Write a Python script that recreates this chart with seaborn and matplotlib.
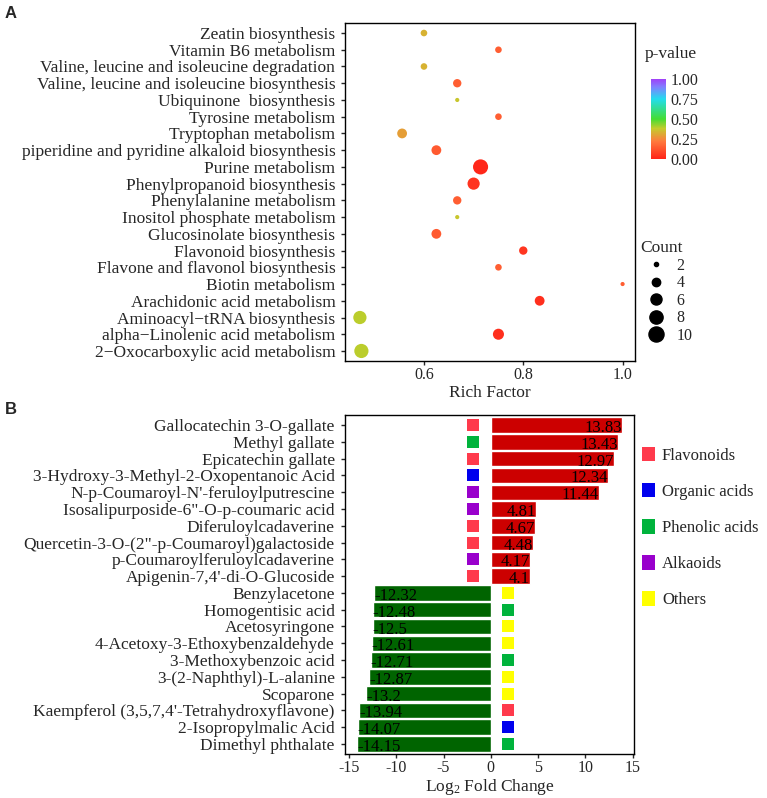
import numpy as np
import pandas as pd
import seaborn as sns
import matplotlib.pyplot as plt
from matplotlib.colors import LinearSegmentedColormap, Normalize
from matplotlib.cm import ScalarMappable
from matplotlib.lines import Line2D
from matplotlib.patches import Patch

# ---- panel A data (KEGG enrichment) ----
pathways = [
    "Zeatin biosynthesis", "Vitamin B6 metabolism",
    "Valine, leucine and isoleucine degradation",
    "Valine, leucine and isoleucine biosynthesis",
    "Ubiquinone  biosynthesis", "Tyrosine metabolism",
    "Tryptophan metabolism",
    "piperidine and pyridine alkaloid biosynthesis",
    "Purine metabolism", "Phenylpropanoid biosynthesis",
    "Phenylalanine metabolism", "Inositol phosphate metabolism",
    "Glucosinolate biosynthesis", "Flavonoid biosynthesis",
    "Flavone and flavonol biosynthesis", "Biotin metabolism",
    "Arachidonic acid metabolism", "Aminoacyl\u2212tRNA biosynthesis",
    "alpha\u2212Linolenic acid metabolism",
    "2\u2212Oxocarboxylic acid metabolism",
]
rich_factor = [0.60, 0.75, 0.60, 0.667, 0.667, 0.75, 0.556, 0.625, 0.714, 0.70,
               0.667, 0.667, 0.625, 0.80, 0.75, 1.00, 0.833, 0.471, 0.75, 0.474]
count = [3, 3, 3, 4, 2, 3, 5, 5, 10, 7, 4, 2, 5, 4, 3, 2, 5, 8, 6, 9]
pvalue = [0.33, 0.15, 0.33, 0.15, 0.37, 0.15, 0.29, 0.14, 0.01, 0.04,
          0.15, 0.37, 0.14, 0.05, 0.15, 0.15, 0.03, 0.39, 0.03, 0.39]

# ---- panel B data (fold change) ----
metabolites = [
    "Gallocatechin 3-O-gallate", "Methyl gallate", "Epicatechin gallate",
    "3-Hydroxy-3-Methyl-2-Oxopentanoic Acid",
    "N-p-Coumaroyl-N'-feruloylputrescine",
    "Isosalipurposide-6\"-O-p-coumaric acid", "Diferuloylcadaverine",
    "Quercetin-3-O-(2\"-p-Coumaroyl)galactoside",
    "p-Coumaroylferuloylcadaverine", "Apigenin-7,4'-di-O-Glucoside",
    "Benzylacetone", "Homogentisic acid", "Acetosyringone",
    "4-Acetoxy-3-Ethoxybenzaldehyde", "3-Methoxybenzoic acid",
    "3-(2-Naphthyl)-L-alanine", "Scoparone",
    "Kaempferol (3,5,7,4'-Tetrahydroxyflavone)", "2-Isopropylmalic Acid",
    "Dimethyl phthalate",
]
log2fc = [13.83, 13.43, 12.97, 12.34, 11.44, 4.81, 4.67, 4.48, 4.17, 4.1,
          -12.32, -12.48, -12.5, -12.61, -12.71, -12.87, -13.2, -13.94, -14.07, -14.15]
classes = ["Flavonoids", "Phenolic acids", "Flavonoids", "Organic acids", "Alkaoids",
           "Alkaoids", "Flavonoids", "Flavonoids", "Alkaoids", "Flavonoids",
           "Others", "Phenolic acids", "Others", "Others", "Phenolic acids",
           "Others", "Others", "Flavonoids", "Organic acids", "Phenolic acids"]
class_order = ["Flavonoids", "Organic acids", "Phenolic acids", "Alkaoids", "Others"]
class_colors = {"Flavonoids": "#FF3A4C", "Organic acids": "#0000EE",
                "Phenolic acids": "#00B33C", "Alkaoids": "#9900CC", "Others": "#FFFF00"}

sns.set_style("white")
plt.rcParams['font.family'] = ['Liberation Serif', 'DejaVu Serif']
plt.rcParams['mathtext.default'] = 'regular'

fig = plt.figure(figsize=(7.67, 7.98), dpi=100)

# p-value colour ramp (red -> orange -> yellow-green -> green -> cyan -> purple)
pcmap = LinearSegmentedColormap.from_list("pv", [
    (0.0, "#FF2418"), (0.22, "#FF7A3E"), (0.38, "#C4CC2C"), (0.5, "#44DD33"),
    (0.75, "#22DDEE"), (0.9, "#8080FF"), (1.0, "#A040F8")])

# ---------------- Panel A ----------------
df_a = pd.DataFrame({"pathway": pathways, "rich": rich_factor,
                     "count": count, "p": pvalue})
ax1 = fig.add_axes([0.4498, 0.5476, 0.3781, 0.4236])
sns.scatterplot(data=df_a, x="rich", y="pathway", hue="p", palette=pcmap,
                hue_norm=(0, 1), size="count", sizes=(9, 118), size_norm=(2, 10),
                linewidth=0, legend=False, ax=ax1)
ax1.set_xlim(0.441, 1.025)
ax1.set_ylim(len(pathways) - 0.4, -0.6)
ax1.set_xticks([0.6, 0.8, 1.0])
ax1.set_xticklabels(["0.6", "0.8", "1.0"])
ax1.set_xlabel("Rich Factor", fontsize=12.5, labelpad=2)
ax1.set_ylabel("")
ax1.tick_params(axis="y", labelsize=12.5, length=3, width=1, pad=4, left=True)
ax1.tick_params(axis="x", labelsize=11.5, length=3, width=1, pad=1, bottom=True)
for s in ax1.spines.values():
    s.set_color("black")
    s.set_linewidth(1)

# colorbar
cax = fig.add_axes([0.8488, 0.8008, 0.0196, 0.1003])
cb = fig.colorbar(ScalarMappable(norm=Normalize(0, 1), cmap=pcmap), cax=cax,
                  ticks=[0, 0.25, 0.5, 0.75, 1.0])
cb.outline.set_visible(False)
cb.ax.set_yticklabels(["0.00", "0.25", "0.50", "0.75", "1.00"])
cax.tick_params(left=True, right=True, labelleft=False, labelright=True,
                direction="in", color="white", length=3, width=1,
                labelsize=11.5, pad=3)
fig.text(645 / 767, 1 - 54 / 798, "p-value", fontsize=12.5, va="center", ha="left")

# count legend
size_breaks = [2, 4, 6, 8, 10]
smin, smax = 9, 118
size_handles = [Line2D([], [], marker="o", linestyle="", color="black",
                       markersize=np.sqrt(smin + (smax - smin) * (b - 2) / 8))
                for b in size_breaks]
fig.legend(size_handles, [str(b) for b in size_breaks], title="Count",
           loc="upper left", bbox_to_anchor=(640 / 767, 1 - 240 / 798),
           frameon=False, fontsize=11.5, title_fontsize=12.5,
           labelspacing=0.1, handletextpad=0.3, borderpad=0,
           borderaxespad=0, alignment="left")

# ---------------- Panel B ----------------
df_b = pd.DataFrame({"name": metabolites, "fc": log2fc, "cls": classes})
df_b["dir"] = np.where(df_b["fc"] > 0, "up", "down")
df_b["sq"] = np.where(df_b["fc"] > 0, -1.9, 1.8)

ax2 = fig.add_axes([0.4492, 0.0551, 0.3778, 0.4248])
sns.barplot(data=df_b, x="fc", y="name", hue="dir",
            palette={"up": "#CC0000", "down": "#006400"}, dodge=False,
            saturation=1, width=0.92, edgecolor="white", linewidth=1,
            legend=False, ax=ax2)
sns.stripplot(data=df_b, x="sq", y="name", hue="cls", palette=class_colors,
              marker="s", size=8, jitter=False, linewidth=0, legend=False, ax=ax2)

for i, v in enumerate(log2fc):
    ax2.text(v, i + 0.18, f"{v:g}", ha="right" if v > 0 else "left", va="center",
             fontsize=12, color="black")

ax2.set_xlim(-15.46, 15.16)
ax2.set_ylim(len(metabolites) - 0.4, -0.6)
ax2.set_xticks([-15, -10, -5, 0, 5, 10, 15])
ax2.set_xticklabels(["-15", "-10", "-5", "0", "5", "10", "15"])
ax2.set_xlabel("Log$_{2}$ Fold Change", fontsize=12.5, labelpad=1)
ax2.set_ylabel("")
ax2.tick_params(axis="y", labelsize=12.5, length=3, width=1, pad=4, left=True)
ax2.tick_params(axis="x", labelsize=11.5, length=3, width=1, pad=1, bottom=True)
for s in ax2.spines.values():
    s.set_color("black")
    s.set_linewidth(1)

cls_handles = [Patch(facecolor=class_colors[c], edgecolor="none") for c in class_order]
fig.legend(cls_handles, class_order, loc="upper left",
           bbox_to_anchor=(642 / 767, 1 - 447 / 798), frameon=False, fontsize=12,
           handlelength=0.75, handleheight=0.95, handletextpad=0.45,
           labelspacing=1.15, borderpad=0, borderaxespad=0)

# panel letters
fig.text(11 / 767, 1 - 13 / 798, "A", fontsize=12, fontweight="bold",
         family="Liberation Sans", ha="center", va="center")
fig.text(11 / 767, 1 - 410 / 798, "B", fontsize=12, fontweight="bold",
         family="Liberation Sans", ha="center", va="center")

fig.savefig("out.png", dpi=100)
